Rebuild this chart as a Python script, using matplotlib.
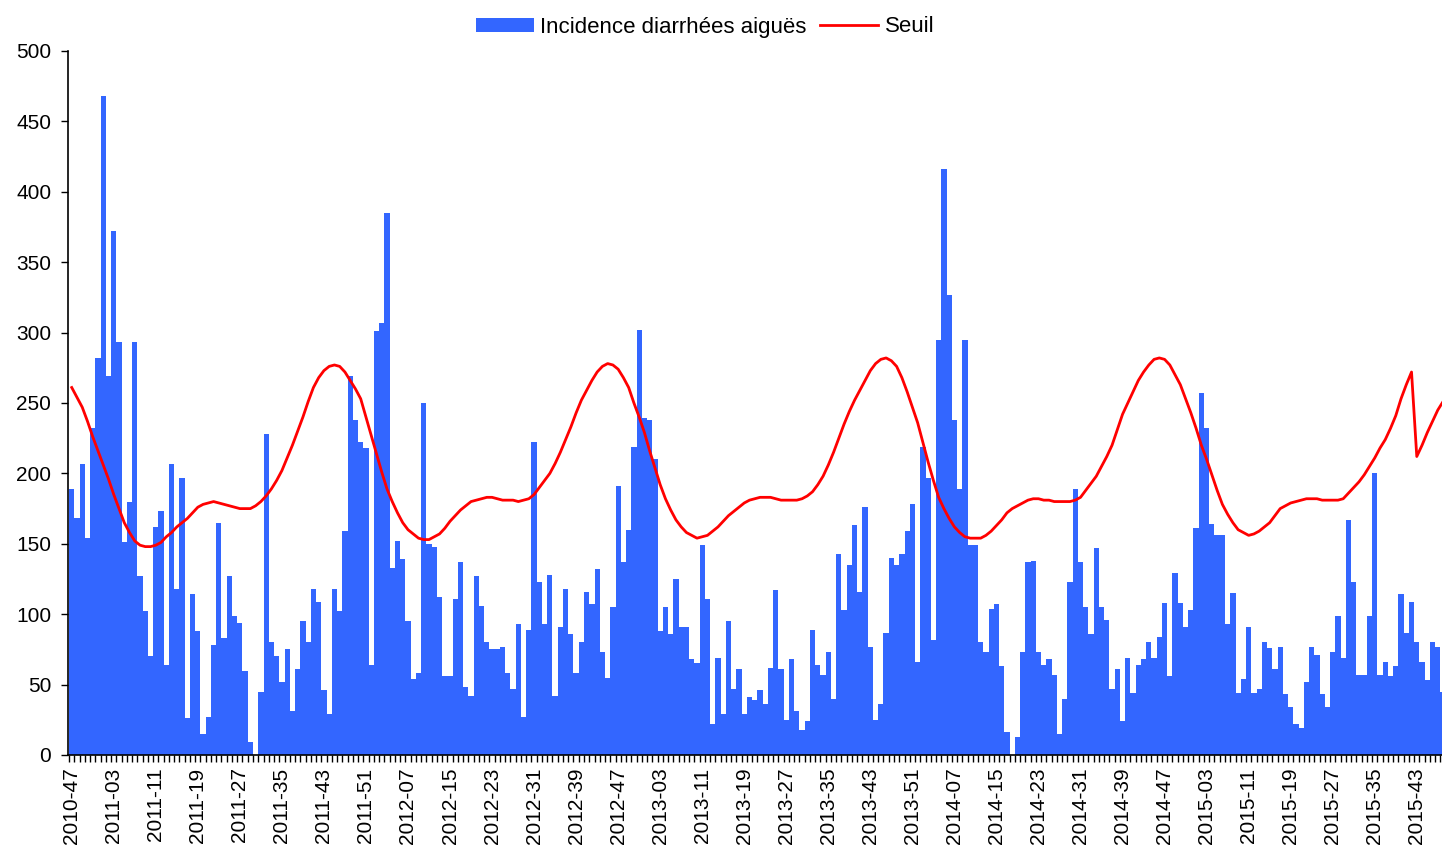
import matplotlib
matplotlib.use("Agg")
import matplotlib.pyplot as plt
from matplotlib.ticker import FixedLocator, MultipleLocator

plt.rcParams["font.family"] = ["Liberation Sans", "DejaVu Sans"]

# weekly series, first week = 2010-47
incidence = [
    189, 168, 207, 154, 232, 282, 468, 269, 372, 293,
    151, 180, 293, 127, 102, 70, 162, 173, 64, 207,
    118, 197, 26, 114, 88, 15, 27, 78, 165, 83,
    127, 99, 94, 60, 9, 0, 45, 228, 80, 70,
    52, 75, 31, 61, 95, 80, 118, 109, 46, 29,
    118, 102, 159, 269, 238, 222, 218, 64, 301, 307,
    385, 133, 152, 139, 95, 54, 58, 250, 150, 148,
    112, 56, 56, 111, 137, 48, 42, 127, 106, 80,
    75, 75, 77, 58, 47, 93, 27, 89, 222, 123,
    93, 128, 42, 91, 118, 86, 58, 80, 116, 107,
    132, 73, 55, 105, 191, 137, 160, 219, 302, 239,
    238, 210, 88, 105, 86, 125, 91, 91, 68, 65,
    149, 111, 22, 69, 29, 95, 47, 61, 29, 41,
    39, 46, 36, 62, 117, 61, 25, 68, 31, 18,
    24, 89, 64, 57, 73, 40, 143, 103, 135, 163,
    116, 176, 77, 25, 36, 87, 140, 135, 143, 159,
    178, 66, 219, 197, 82, 295, 416, 327, 238, 189,
    295, 149, 149, 80, 73, 104, 107, 63, 16, 0,
    13, 73, 137, 138, 73, 64, 68, 57, 15, 40,
    123, 189, 137, 105, 86, 147, 105, 96, 47, 61,
    24, 69, 44, 64, 68, 80, 69, 84, 108, 56,
    129, 108, 91, 103, 161, 257, 232, 164, 156, 156,
    93, 115, 44, 54, 91, 44, 47, 80, 76, 61,
    77, 43, 34, 22, 19, 52, 77, 71, 43, 34,
    73, 99, 69, 167, 123, 57, 57, 99, 200, 57,
    66, 56, 63, 114, 87, 109, 80, 66, 53, 80,
    77, 45,
]

seuil = [
    261, 254, 247, 237, 226, 216, 206, 196, 185, 175,
    165, 158, 152, 149, 148, 148, 149, 151, 155, 158,
    162, 165, 168, 172, 176, 178, 179, 180, 179, 178,
    177, 176, 175, 175, 175, 177, 180, 184, 189, 195,
    202, 211, 220, 230, 240, 251, 261, 268, 273, 276,
    277, 276, 272, 266, 260, 253, 240, 227, 214, 201,
    189, 180, 172, 165, 160, 157, 154, 153, 153, 155,
    157, 161, 166, 170, 174, 177, 180, 181, 182, 183,
    183, 182, 181, 181, 181, 180, 181, 182, 185, 190,
    195, 200, 207, 215, 224, 233, 243, 252, 259, 266,
    272, 276, 278, 277, 274, 268, 261, 250, 240, 229,
    216, 204, 192, 182, 174, 167, 162, 158, 156, 154,
    155, 156, 159, 162, 166, 170, 173, 176, 179, 181,
    182, 183, 183, 183, 182, 181, 181, 181, 181, 182,
    184, 187, 192, 198, 206, 215, 225, 235, 244, 252,
    259, 266, 273, 278, 281, 282, 280, 276, 268, 258,
    247, 236, 222, 208, 195, 183, 175, 168, 162, 158,
    155, 154, 154, 154, 156, 159, 163, 167, 172, 175,
    177, 179, 181, 182, 182, 181, 181, 180, 180, 180,
    180, 181, 183, 188, 193, 198, 205, 212, 220, 231,
    242, 250, 258, 266, 272, 277, 281, 282, 281, 277,
    270, 263, 253, 243, 232, 220, 210, 199, 188, 178,
    171, 165, 160, 158, 156, 157, 159, 162, 165, 170,
    175, 177, 179, 180, 181, 182, 182, 182, 181, 181,
    181, 181, 182, 186, 190, 194, 199, 205, 211, 218,
    224, 232, 241, 253, 263, 272, 212, 220, 229, 237,
    245, 251,
]

start_year, start_week = 2010, 47
weeks_in_year = {2010: 52, 2011: 52, 2012: 52, 2013: 52, 2014: 52, 2015: 53}

weeks = []
y, w = start_year, start_week
while len(weeks) < len(incidence):
    weeks.append(f"{y}-{w:02d}")
    w += 1
    if w > weeks_in_year[y]:
        y, w = y + 1, 1

x = list(range(len(weeks)))

fig = plt.figure(figsize=(14.42, 8.48), dpi=100)
ax = fig.add_axes([68 / 1442, 93 / 848, 1374 / 1442, 704 / 848])

bars = ax.bar(x, incidence, width=1.0, color="#3366FF", linewidth=0,
              antialiased=False, label="Incidence diarrhées aiguës", zorder=2)
line, = ax.plot(x, seuil, color="#FF0000", linewidth=2.0, label="Seuil", zorder=3)

ax.set_ylim(0, 500)
ax.set_xlim(-0.71, 260.8)

ax.yaxis.set_major_locator(MultipleLocator(50))
ax.tick_params(axis="y", direction="out", length=5, width=1, labelsize=15, pad=7)

# labels every 8 weeks, small tick at every week boundary
ax.xaxis.set_major_locator(FixedLocator(x[::8]))
ax.set_xticklabels(weeks[::8], rotation=90, fontsize=15)
ax.xaxis.set_minor_locator(FixedLocator([i - 0.5 for i in x] + [len(x) - 0.5]))
ax.tick_params(axis="x", which="major", length=0, pad=9)
ax.tick_params(axis="x", which="minor", direction="out", length=5, width=1)

for s in ("top", "right"):
    ax.spines[s].set_visible(False)
ax.spines["left"].set_linewidth(1.2)
ax.spines["bottom"].set_linewidth(1.2)

fig.legend(handles=[bars, line], loc="center", bbox_to_anchor=(705 / 1442, 1 - 27 / 848),
           ncol=2, frameon=False, fontsize=16, handlelength=2.6, handleheight=0.6,
           handletextpad=0.3, columnspacing=0.6)

fig.savefig("out.png", dpi=100)
